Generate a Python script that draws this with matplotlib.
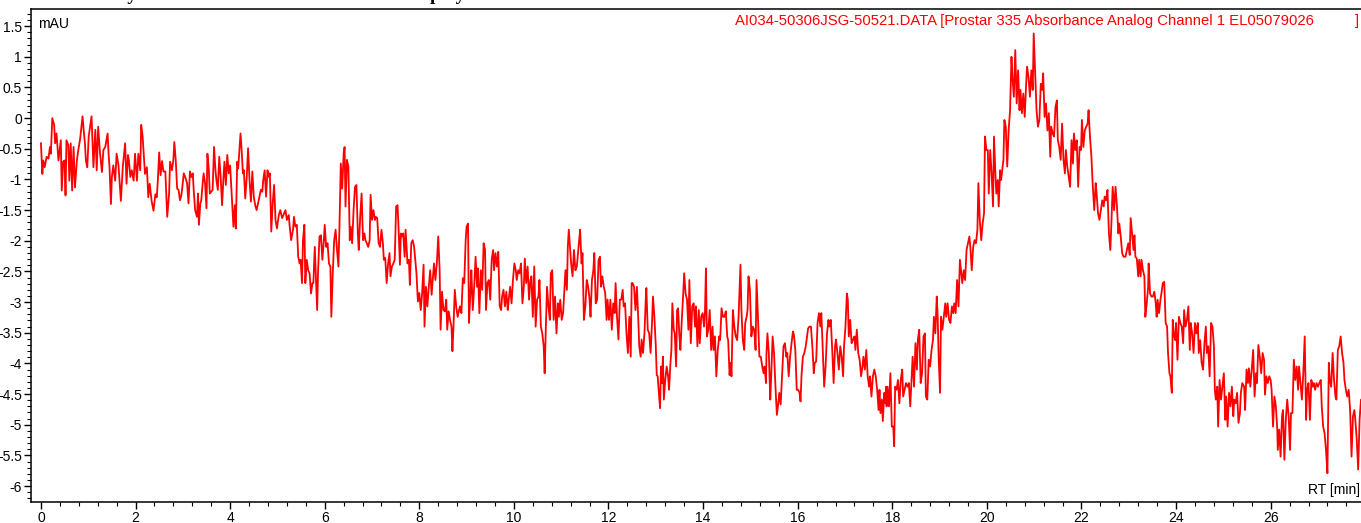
import matplotlib
matplotlib.use("Agg")
import matplotlib.pyplot as plt
from matplotlib.ticker import MultipleLocator, FuncFormatter

# header / labels
title_text = "Analysis of the absorbance trace in the display"
data_file = "AI034-50306JSG-50521.DATA [Prostar 335 Absorbance Analog Channel 1 EL05079026"
x_label = "RT [min]"
y_label = "mAU"

# retention time (min) and signal (mAU)
rt = [
    0.00, 0.03, 0.05, 0.08, 0.12, 0.16, 0.19, 0.21, 0.24, 0.28, 0.30, 0.33, 0.37, 0.42, 0.44, 0.47,
    0.50, 0.52, 0.54, 0.58, 0.60, 0.63, 0.66, 0.69, 0.72, 0.76, 0.79, 0.83, 0.88, 0.91, 0.93, 0.95,
    0.98, 1.01, 1.07, 1.11, 1.15, 1.18, 1.21, 1.25, 1.29, 1.32, 1.36, 1.41, 1.43, 1.45, 1.48, 1.50,
    1.53, 1.57, 1.60, 1.64, 1.69, 1.73, 1.78, 1.81, 1.84, 1.86, 1.89, 1.92, 1.96, 1.99, 2.03, 2.06,
    2.10, 2.12, 2.15, 2.20, 2.24, 2.27, 2.30, 2.34, 2.38, 2.42, 2.45,
    2.47, 2.50, 2.53, 2.56, 2.59, 2.63, 2.67, 2.71, 2.73, 2.77, 2.80, 2.82, 2.85, 2.88, 2.91, 2.94,
    2.97, 2.99, 3.02, 3.05, 3.09, 3.12, 3.15, 3.18, 3.21, 3.23, 3.26, 3.30, 3.32, 3.34, 3.37, 3.39,
    3.42, 3.44, 3.47, 3.50, 3.52, 3.55, 3.57, 3.60, 3.63, 3.66, 3.69, 3.71, 3.74, 3.77, 3.80, 3.83,
    3.86, 3.88, 3.91, 3.94, 3.97, 4.00, 4.04, 4.07, 4.10, 4.12, 4.15, 4.17, 4.22, 4.24, 4.27, 4.29,
    4.32, 4.35, 4.38, 4.41, 4.44, 4.47, 4.50, 4.53, 4.56, 4.59, 4.62, 4.65, 4.68, 4.70, 4.73, 4.76,
    4.79, 4.82, 4.84, 4.87, 4.90, 4.93, 4.96, 4.99, 5.03, 5.06, 5.10,
    5.17, 5.20, 5.24, 5.26, 5.29, 5.33, 5.35, 5.38, 5.41, 5.44, 5.47, 5.49, 5.52, 5.54, 5.57, 5.59,
    5.62, 5.65, 5.68, 5.71, 5.74, 5.76, 5.79, 5.81, 5.84, 5.86, 5.89, 5.92, 5.95, 5.98, 6.00, 6.03,
    6.06, 6.09, 6.12, 6.14, 6.17, 6.20, 6.23, 6.26, 6.29, 6.31, 6.34, 6.37, 6.40, 6.42, 6.44, 6.47,
    6.50, 6.53, 6.55, 6.58, 6.61, 6.64, 6.67, 6.70, 6.72, 6.75, 6.78, 6.81, 6.84, 6.86, 6.89, 6.92,
    6.95, 6.97, 7.00, 7.03, 7.06, 7.08, 7.11, 7.14, 7.17, 7.20, 7.23, 7.25, 7.28, 7.31, 7.34, 7.37,
    7.39, 7.42, 7.45, 7.48, 7.51, 7.54, 7.56, 7.59,
    7.61, 7.63, 7.66, 7.69, 7.71, 7.75, 7.78, 7.80, 7.83, 7.86, 7.89, 7.92, 7.94, 7.97, 8.00, 8.03,
    8.06, 8.09, 8.11, 8.14, 8.17, 8.20, 8.23, 8.26, 8.28, 8.31, 8.34, 8.37, 8.40, 8.43, 8.45, 8.48,
    8.51, 8.54, 8.57, 8.59, 8.62, 8.65, 8.68, 8.70, 8.72, 8.75, 8.78, 8.81, 8.84, 8.86, 8.89, 8.92,
    8.95, 8.98, 9.00, 9.03, 9.05, 9.08, 9.10, 9.13, 9.16, 9.19, 9.22, 9.24, 9.27, 9.30, 9.33, 9.36,
    9.39, 9.41, 9.44, 9.47, 9.50, 9.53, 9.56, 9.58, 9.61, 9.64, 9.67, 9.70, 9.73, 9.75, 9.78, 9.81,
    9.84, 9.87, 9.89, 9.92, 9.95, 9.98, 10.01, 10.04, 10.06, 10.09, 10.12,
    10.15, 10.18, 10.21, 10.23, 10.26, 10.29, 10.32, 10.35, 10.37, 10.40, 10.43, 10.46, 10.49, 10.52,
    10.54, 10.57, 10.60, 10.63, 10.65, 10.67, 10.70, 10.73, 10.76, 10.78, 10.81, 10.84, 10.87, 10.90,
    10.93, 10.95, 10.98, 11.01, 11.04, 11.07, 11.09, 11.12, 11.14, 11.16, 11.19, 11.21, 11.24, 11.27,
    11.30, 11.33, 11.36, 11.38, 11.40, 11.43, 11.45, 11.48, 11.51, 11.54, 11.57, 11.60, 11.62, 11.65,
    11.68, 11.70, 11.73, 11.76, 11.79, 11.82, 11.84, 11.87, 11.90, 11.93, 11.96, 11.98, 12.01, 12.04,
    12.07, 12.10, 12.13, 12.15, 12.18, 12.21, 12.24, 12.27, 12.30, 12.32, 12.35, 12.38, 12.41, 12.44,
    12.47, 12.49, 12.51, 12.54, 12.57, 12.60, 12.63, 12.65, 12.68, 12.70, 12.73, 12.76, 12.79,
    12.80, 12.83, 12.86, 12.89, 12.92, 12.94, 12.97, 13.00, 13.02, 13.04, 13.06, 13.09, 13.11, 13.13,
    13.15, 13.17, 13.20, 13.23, 13.26, 13.28, 13.31, 13.33, 13.35, 13.38, 13.40, 13.43, 13.45, 13.47,
    13.50, 13.52, 13.55, 13.58, 13.60, 13.63, 13.66, 13.69, 13.71, 13.74, 13.77, 13.80, 13.83, 13.85,
    13.88, 13.91, 13.93, 13.96, 13.99, 14.02, 14.04, 14.06, 14.08, 14.11, 14.14, 14.17, 14.20, 14.22,
    14.25, 14.28, 14.31, 14.34, 14.36, 14.39, 14.42, 14.45, 14.48, 14.51, 14.53, 14.56, 14.58, 14.60,
    14.63, 14.66, 14.69, 14.72, 14.75, 14.77, 14.79, 14.81, 14.84, 14.87, 14.89, 14.92, 14.94, 14.96,
    14.99, 15.02, 15.05, 15.08, 15.11, 15.13, 15.16, 15.19, 15.22, 15.25, 15.28, 15.30, 15.33,
    15.34, 15.36, 15.39, 15.42, 15.44, 15.47, 15.50, 15.53, 15.56, 15.59, 15.61, 15.64, 15.67, 15.70,
    15.73, 15.76, 15.78, 15.81, 15.84, 15.87, 15.90, 15.92, 15.95, 15.98, 16.01, 16.04, 16.06, 16.08,
    16.11, 16.14, 16.17, 16.19, 16.22, 16.25, 16.28, 16.31, 16.34, 16.36, 16.39, 16.42, 16.45, 16.48,
    16.50, 16.53, 16.56, 16.59, 16.62, 16.65, 16.67, 16.70, 16.73, 16.76, 16.79, 16.81, 16.84, 16.87,
    16.90, 16.93, 16.96, 16.98, 17.01, 17.04, 17.06, 17.08, 17.11, 17.14, 17.17, 17.20, 17.22, 17.25,
    17.28, 17.31, 17.34, 17.37, 17.39, 17.42, 17.45, 17.48, 17.51, 17.53, 17.56, 17.59, 17.62, 17.65,
    17.68, 17.71, 17.73, 17.75, 17.78, 17.80, 17.83, 17.85, 17.87,
    17.88, 17.90, 17.93, 17.96, 17.99, 18.02, 18.04, 18.06, 18.09, 18.12, 18.15, 18.18, 18.21, 18.23,
    18.26, 18.29, 18.32, 18.35, 18.38, 18.40, 18.43, 18.46, 18.49, 18.52, 18.54, 18.57, 18.60, 18.63,
    18.66, 18.69, 18.71, 18.74, 18.77, 18.80, 18.83, 18.86, 18.88, 18.91, 18.94, 18.96, 18.98, 19.01,
    19.03, 19.06, 19.09, 19.12, 19.14, 19.17, 19.20, 19.23, 19.26, 19.29, 19.31, 19.34, 19.37, 19.40,
    19.43, 19.46, 19.48, 19.51, 19.54, 19.57, 19.60, 19.63, 19.65, 19.68, 19.71, 19.74, 19.77, 19.80,
    19.82, 19.85, 19.88, 19.91, 19.94, 19.96, 19.99, 20.02, 20.04, 20.07, 20.10, 20.13, 20.15, 20.18,
    20.20, 20.23, 20.25, 20.28, 20.30,
    20.35, 20.37, 20.40, 20.43, 20.46, 20.49, 20.52, 20.54, 20.57, 20.60, 20.63, 20.66, 20.69, 20.71,
    20.74, 20.77, 20.80, 20.83, 20.85, 20.88, 20.91, 20.94, 20.97, 20.99, 21.02, 21.05, 21.08, 21.11,
    21.14, 21.17, 21.19, 21.22, 21.25, 21.28, 21.31, 21.34, 21.36, 21.39, 21.42, 21.45, 21.48, 21.50,
    21.53, 21.56, 21.59, 21.62, 21.65, 21.67, 21.70, 21.73, 21.76, 21.79, 21.82, 21.84, 21.87, 21.90,
    21.93, 21.96, 21.99, 22.01, 22.04, 22.07, 22.10, 22.13, 22.15, 22.18, 22.21, 22.24, 22.27, 22.30,
    22.32, 22.35, 22.38, 22.41, 22.44, 22.47, 22.49, 22.52, 22.55, 22.58, 22.61, 22.63, 22.66, 22.69,
    22.72, 22.75, 22.78, 22.80, 22.83, 22.86, 22.89,
    22.93, 22.96, 22.99, 23.02, 23.04, 23.07, 23.10, 23.12, 23.14, 23.17, 23.20, 23.22, 23.25, 23.27,
    23.30, 23.33, 23.35, 23.38, 23.41, 23.42, 23.45, 23.48, 23.51, 23.54, 23.57, 23.59, 23.61, 23.64,
    23.67, 23.69, 23.72, 23.75, 23.78, 23.81, 23.83, 23.86, 23.88, 23.91, 23.93, 23.95, 23.98, 24.00,
    24.03, 24.06, 24.09, 24.12, 24.15, 24.17, 24.20, 24.23, 24.26, 24.29, 24.31, 24.34, 24.37, 24.40,
    24.43, 24.46, 24.48, 24.51, 24.54, 24.57, 24.60, 24.63, 24.65, 24.68, 24.71, 24.74, 24.77, 24.80,
    24.82, 24.84, 24.87, 24.89, 24.92, 24.95, 24.98, 25.01, 25.04, 25.06, 25.09, 25.12, 25.15, 25.18,
    25.21, 25.23, 25.26, 25.29, 25.32, 25.35, 25.37,
    25.40, 25.44, 25.46, 25.49, 25.52, 25.54, 25.57, 25.60, 25.63, 25.66, 25.69, 25.71, 25.74, 25.77,
    25.80, 25.83, 25.86, 25.88, 25.91, 25.94, 25.97, 26.00, 26.02, 26.05, 26.08, 26.11, 26.14, 26.15,
    26.18, 26.21, 26.24, 26.26, 26.29, 26.32, 26.35, 26.38, 26.41, 26.43, 26.46, 26.49, 26.52, 26.55,
    26.58, 26.60, 26.63, 26.66, 26.69, 26.72, 26.75, 26.77, 26.80, 26.83, 26.86, 26.89, 26.91, 26.94,
    26.97, 27.00, 27.03, 27.06, 27.08, 27.11, 27.14, 27.17, 27.20, 27.23, 27.25, 27.28, 27.31, 27.34,
    27.37, 27.39, 27.42, 27.45, 27.48, 27.51, 27.54, 27.56, 27.59, 27.62, 27.65, 27.68, 27.71, 27.74,
    27.77, 27.79, 27.82, 27.85, 27.88, 27.91, 27.93, 27.96,
]

mau = [
    -0.41, -0.91, -0.69, -0.80, -0.63, -0.66, -0.47, -0.58, 0.00, -0.11, -0.41, -0.25, -0.69, -0.36, -1.18, -0.71,
    -0.69, -1.26, -0.36, -0.44, -1.02, -0.41, -1.18, -0.47, -1.13, -0.69, -0.52, -0.33, 0.03, -0.25, -0.41, -0.69,
    -0.80, -0.30, 0.03, -0.80, -0.19, -0.85, -0.14, -0.58, -0.88, -0.52, -0.47, -0.25, -0.58, -0.80, -1.40, -0.96,
    -0.77, -1.02, -0.58, -0.77, -1.35, -0.80, -0.41, -1.07, -0.60, -0.69, -0.96, -0.85, -1.02, -0.58, -1.02, -0.58,
    -0.85, -0.11, -0.30, -0.91, -0.80, -1.29, -1.07, -1.35, -1.51, -1.24, -1.29,
    -1.04, -0.56, -0.93, -0.70, -0.87, -0.87, -1.61, -1.23, -0.71, -0.85, -0.68, -0.39, -0.68, -1.15, -1.17, -1.34,
    -1.25, -1.12, -0.90, -0.96, -1.06, -1.39, -0.87, -0.96, -0.90, -1.17, -1.50, -1.61, -1.23, -1.74, -1.39, -1.34,
    -1.06, -0.90, -1.06, -1.47, -0.58, -0.85, -1.23, -1.20, -1.17, -0.47, -0.85, -1.01, -1.17, -0.63, -0.96, -1.42,
    -0.96, -0.71, -1.09, -0.60, -0.90, -0.77, -1.34, -1.77, -1.42, -1.80, -0.71, -0.82, -0.25, -0.47, -0.90, -0.85,
    -1.31, -0.98, -0.49, -1.01, -1.36, -0.87, -1.28, -1.42, -1.50, -1.39, -1.28, -1.17, -1.20, -1.01, -0.85, -1.28,
    -0.85, -0.96, -0.90, -1.85, -1.39, -1.09, -1.66, -1.80, -1.58, -1.50, -1.63,
    -1.50, -1.66, -1.58, -1.77, -1.99, -1.82, -1.61, -1.77, -1.74, -2.26, -2.37, -2.31, -2.69, -1.99, -1.74, -2.69,
    -2.31, -2.48, -2.53, -2.86, -2.69, -2.69, -2.10, -2.53, -3.13, -2.48, -1.93, -1.91, -2.31, -2.01, -1.74, -2.10,
    -2.04, -2.37, -2.42, -3.24, -2.53, -1.99, -1.82, -2.15, -2.42, -1.82, -0.74, -1.15, -0.58, -0.47, -1.44, -0.68,
    -0.79, -1.99, -1.77, -2.04, -1.50, -1.12, -1.09, -1.88, -2.15, -1.61, -1.23, -1.99, -1.88, -1.99, -2.04, -2.10,
    -1.99, -1.25, -1.66, -1.50, -1.66, -1.61, -1.63, -2.04, -2.10, -1.82, -2.04, -2.31, -2.28, -2.69, -2.37, -2.20,
    -2.58, -2.42, -2.37, -2.31, -1.44, -1.42, -1.77, -2.39,
    -1.88, -1.93, -1.88, -2.26, -1.82, -2.37, -2.31, -2.72, -2.04, -1.99, -2.10, -2.37, -2.53, -2.99, -2.85, -3.13,
    -2.85, -2.39, -3.40, -2.75, -3.07, -2.75, -2.48, -2.88, -2.67, -2.37, -2.64, -2.37, -1.93, -2.48, -3.45, -2.83,
    -3.13, -3.15, -2.96, -3.45, -3.15, -3.29, -3.40, -3.80, -3.45, -2.80, -3.07, -3.24, -3.13, -3.07, -3.18, -2.61,
    -2.69, -1.99, -1.77, -1.72, -3.34, -2.85, -2.48, -3.13, -2.75, -2.26, -2.75, -2.45, -3.18, -2.48, -2.80, -2.04,
    -2.15, -3.13, -2.69, -2.64, -2.96, -2.31, -2.15, -2.48, -2.20, -2.42, -2.18, -3.07, -3.13, -2.91, -2.80, -3.07,
    -2.83, -3.13, -2.96, -2.75, -3.02, -2.64, -2.37, -2.48, -2.64, -2.48, -2.53,
    -2.37, -3.02, -2.75, -2.29, -2.69, -2.42, -2.96, -2.64, -2.58, -3.24, -2.42, -3.40, -2.96, -2.91,
    -2.64, -3.40, -3.51, -3.72, -4.16, -3.56, -2.75, -3.07, -3.29, -2.53, -2.48, -3.29, -2.91, -3.51,
    -3.02, -3.24, -2.96, -3.29, -3.18, -2.75, -2.48, -2.80, -2.10, -1.82, -2.15, -2.37, -2.58, -2.15,
    -2.48, -2.42, -2.15, -1.99, -1.82, -2.37, -2.20, -3.29, -3.07, -2.64, -2.75, -2.96, -3.24, -2.64,
    -2.48, -2.20, -3.02, -2.96, -2.31, -2.26, -2.75, -2.58, -2.75, -2.85, -3.29, -2.96, -3.29, -2.96,
    -3.45, -3.02, -3.18, -2.69, -3.24, -3.61, -2.96, -2.96, -2.80, -3.07, -3.02, -3.51, -3.83, -3.24,
    -3.89, -2.69, -2.69, -2.75, -3.13, -2.75, -3.29, -3.72, -3.89, -3.61, -3.83, -3.51, -2.91,
    -2.77, -3.45, -3.51, -3.83, -3.34, -2.91, -3.24, -3.72, -4.19, -4.21, -4.43, -4.73, -4.05, -4.32,
    -3.89, -4.59, -4.27, -4.05, -4.21, -4.43, -3.99, -3.78, -3.02, -3.45, -3.51, -4.05, -3.13, -3.10,
    -3.56, -3.78, -3.29, -2.86, -2.53, -2.86, -2.96, -3.45, -2.64, -3.67, -3.07, -3.02, -3.40, -3.07,
    -3.72, -3.13, -3.67, -3.24, -3.18, -3.40, -3.15, -2.45, -3.56, -3.45, -3.13, -3.78, -3.40, -3.78,
    -3.56, -4.21, -3.78, -3.56, -3.62, -3.10, -3.24, -3.24, -3.15, -3.56, -3.62, -4.19, -3.99, -4.21,
    -3.13, -3.40, -3.56, -3.62, -3.24, -2.80, -2.39, -3.13, -3.62, -3.78, -3.34, -3.24, -3.13, -2.58,
    -2.80, -3.56, -3.40, -3.45, -3.78, -2.64, -3.24, -3.89, -3.89, -4.05, -4.16, -4.05, -4.32,
    -3.83, -3.51, -3.83, -4.59, -4.21, -3.56, -3.83, -4.38, -4.84, -4.65, -4.48, -4.67, -4.21, -3.72,
    -3.67, -3.89, -3.83, -4.21, -3.89, -3.67, -3.48, -3.53, -3.78, -4.43, -4.43, -4.48, -4.62, -4.21,
    -3.89, -3.83, -3.72, -3.61, -3.43, -3.40, -3.40, -3.72, -4.16, -3.99, -3.97, -3.34, -3.18, -3.40,
    -3.18, -3.78, -4.38, -4.05, -3.51, -3.29, -3.40, -3.29, -3.78, -4.32, -3.72, -3.61, -3.83, -4.10,
    -3.72, -3.89, -4.21, -3.72, -3.40, -2.86, -2.96, -3.56, -3.29, -3.67, -3.61, -3.56, -3.78, -3.45,
    -3.83, -3.94, -4.21, -4.05, -3.89, -4.10, -3.78, -4.21, -4.38, -4.21, -4.54, -4.21, -4.10, -4.21,
    -4.43, -4.76, -4.43, -4.81, -4.59, -4.94, -4.48, -4.65, -4.38,
    -4.70, -4.38, -4.70, -4.16, -5.03, -5.03, -5.35, -4.38, -4.43, -4.27, -4.65, -4.27, -4.10, -4.54,
    -4.43, -4.32, -4.38, -4.32, -4.70, -4.38, -3.89, -4.38, -3.67, -4.10, -3.62, -3.45, -4.32, -4.16,
    -3.56, -3.51, -4.54, -4.59, -3.94, -4.05, -3.78, -3.62, -3.24, -3.51, -2.91, -3.24, -3.89, -4.48,
    -3.24, -3.45, -3.24, -3.02, -3.24, -3.02, -3.29, -3.34, -3.07, -3.18, -3.02, -3.18, -2.64, -3.07,
    -2.31, -2.53, -2.69, -2.48, -2.64, -2.15, -2.04, -1.93, -2.10, -2.48, -2.10, -1.99, -2.04, -1.82,
    -1.06, -1.66, -1.99, -1.72, -1.55, -0.30, -0.52, -0.52, -1.23, -0.52, -0.90, -1.44, -0.30, -0.90,
    -1.23, -1.01, -1.44, -0.85, -1.01,
    -0.68, -0.03, -0.14, -0.79, -0.20, 0.13, 1.00, 0.67, 0.35, 1.11, 0.24, 0.78, 0.13, 0.46,
    0.08, 0.40, 0.02, 0.56, 0.84, 0.67, 0.35, 0.78, 0.46, 1.38, 0.73, 0.13, -0.14, -0.03,
    0.56, 0.46, 0.73, 0.02, 0.24, -0.20, 0.08, -0.63, -0.14, -0.25, -0.30, 0.18, 0.29, -0.36,
    -0.47, -0.68, -0.09, -0.68, -0.90, -0.52, -0.79, -0.96, -1.12, -0.36, -0.74, -0.25, -0.52, -0.36,
    -1.12, -0.47, -0.52, -0.03, -0.47, -0.20, -0.14, -0.09, 0.13, -0.30, -0.63, -1.12, -1.50, -1.06,
    -1.23, -1.55, -1.66, -1.50, -1.34, -1.44, -1.28, -1.34, -1.17, -1.88, -2.15, -1.77, -1.12, -1.50,
    -1.12, -1.44, -1.88, -1.72, -1.93, -2.20, -2.26,
    -2.26, -2.15, -2.04, -2.23, -1.63, -1.88, -2.15, -1.91, -2.26, -2.29, -2.58, -2.31, -2.58, -2.31,
    -2.48, -2.58, -3.24, -3.02, -2.75, -2.37, -2.86, -2.91, -2.91, -2.83, -3.02, -3.24, -2.96, -3.18,
    -2.96, -2.86, -2.69, -2.67, -3.34, -3.40, -3.83, -4.16, -4.21, -4.48, -3.29, -3.51, -3.62, -3.34,
    -3.94, -3.24, -3.34, -3.40, -3.67, -3.13, -3.40, -3.29, -3.07, -3.78, -3.34, -3.51, -3.83, -3.34,
    -3.51, -3.34, -3.83, -3.62, -3.99, -4.10, -3.67, -3.40, -3.83, -3.72, -4.21, -3.34, -3.40, -3.72,
    -4.43, -4.59, -4.38, -5.03, -4.27, -4.59, -4.38, -4.16, -4.92, -4.54, -5.03, -4.48, -4.70, -4.38,
    -4.86, -4.59, -4.65, -4.48, -4.97, -4.81, -4.48,
    -4.32, -4.38, -4.76, -4.10, -4.32, -4.08, -4.38, -4.10, -3.78, -4.54, -4.16, -4.32, -3.70, -3.89,
    -4.16, -3.83, -3.94, -4.51, -4.21, -4.32, -4.21, -4.27, -4.43, -5.03, -4.54, -4.70, -5.08, -5.41,
    -5.08, -5.52, -4.86, -4.76, -5.57, -4.92, -4.59, -4.86, -5.41, -4.81, -4.81, -3.94, -4.27, -4.05,
    -4.43, -4.05, -4.32, -4.59, -4.16, -3.56, -4.92, -4.43, -4.32, -4.92, -4.27, -4.38, -4.32, -4.43,
    -4.32, -4.38, -4.32, -4.27, -4.70, -5.03, -5.14, -5.41, -5.79, -3.99, -4.27, -4.38, -3.83, -4.27,
    -4.54, -4.59, -3.78, -3.72, -3.56, -3.83, -3.99, -4.27, -4.43, -4.54, -4.43, -4.76, -5.52, -4.86,
    -4.76, -4.92, -5.24, -5.73, -4.92, -4.59, -4.81, -5.52,
]

plt.rcParams["font.family"] = ["Liberation Sans", "DejaVu Sans"]
plt.rcParams["axes.unicode_minus"] = False

W, H = 1361, 523
fig = plt.figure(figsize=(W / 100, H / 100), dpi=100)
ax = fig.add_axes([31 / W, 21 / H, 1 - 31 / W, 493 / H])

ax.plot(rt, mau, color="#ff0000", lw=1.3)

ax.set_xlim(-0.21, 27.91)
ax.set_ylim(-6.26, 1.78)

ax.spines["right"].set_visible(False)
for s in ["left", "bottom", "top"]:
    ax.spines[s].set_linewidth(1.1)

fmt = FuncFormatter(lambda v, p: f"{round(v, 2) + 0:g}")
ax.xaxis.set_major_locator(MultipleLocator(2))
ax.xaxis.set_minor_locator(MultipleLocator(0.4))
ax.yaxis.set_major_locator(MultipleLocator(0.5))
ax.yaxis.set_minor_locator(MultipleLocator(0.1))
ax.xaxis.set_major_formatter(fmt)
ax.yaxis.set_major_formatter(fmt)
ax.tick_params(which="major", direction="out", length=5, width=1, labelsize=10, pad=1.5)
ax.tick_params(which="minor", direction="out", length=3, width=0.8)

# texts
fig.text(38 / W, 1 - 24 / H, y_label, fontsize=10, va="center", ha="left")
fig.text(1360 / W, 1 - 490 / H, x_label, fontsize=10, va="center", ha="right")
fig.text(735 / W, 1 - 21 / H, data_file, fontsize=10.7, color="#ff0000", va="center", ha="left")
fig.text(1359 / W, 1 - 21 / H, "]", fontsize=10.7, color="#ff0000", va="center", ha="right")
# page title sits above the frame; only its descenders show, as in the source
fig.text(88 / W, 1.0, title_text, fontsize=13.7, fontweight="bold",
         family=["Liberation Serif", "DejaVu Serif"], va="baseline", ha="left")

fig.savefig("out.png", dpi=100)
